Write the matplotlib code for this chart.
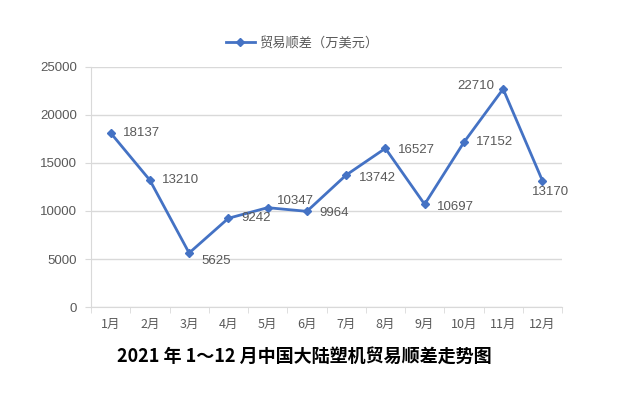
import matplotlib.pyplot as plt

plt.rcParams["font.family"] = ["Noto Sans CJK SC", "DejaVu Sans"]

months = ["1月", "2月", "3月", "4月", "5月", "6月",
          "7月", "8月", "9月", "10月", "11月", "12月"]
surplus = [18137, 13210, 5625, 9242, 10347, 9964,
           13742, 16527, 10697, 17152, 22710, 13170]
yticks = [0, 5000, 10000, 15000, 20000, 25000]

# label offsets in points (dx, dy), left-aligned unless negative dx
offsets = [(9, 0), (9, 0), (9, -6), (9, 0), (7, 5), (9, -1),
           (9, -2), (9, -1), (9, -2), (9, 0), (-6, 2), (-4, -8)]

LINE = "#4472C4"
GRID = "#D9D9D9"
TXT = "#595959"

fig = plt.figure(figsize=(6.39, 3.94), dpi=100)
ax = fig.add_axes([91 / 639, 1 - 307 / 394, (562 - 91) / 639, (307 - 67) / 394])

x = list(range(len(months)))
ax.plot(x, surplus, color=LINE, lw=2, marker="D", ms=4, label="贸易顺差（万美元）")

for i, v in enumerate(surplus):
    dx, dy = offsets[i]
    ha = "left" if dx >= 0 else "right"
    if i == 11:
        ha = "center"
        dx = 6
    ax.annotate(str(v), (i, v), xytext=(dx, dy), textcoords="offset points",
                ha=ha, va="center", fontsize=9.5, color=TXT,
                family=["Liberation Sans", "DejaVu Sans"])

ax.set_xlim(-0.5, len(months) - 0.5)
ax.set_ylim(0, 25000)
ax.set_yticks(yticks)
ax.set_yticklabels([str(t) for t in yticks], family=["Liberation Sans", "DejaVu Sans"])
ax.set_xticks(x)
ax.set_xticklabels(months)
ax.set_xticks([i - 0.5 for i in range(len(months) + 1)], minor=True)
ax.tick_params(axis="x", which="major", length=0, pad=8, labelsize=9, labelcolor=TXT)
ax.tick_params(axis="x", which="minor", length=4, color=GRID)
ax.tick_params(axis="y", length=4, color=GRID, labelsize=9.5, labelcolor=TXT, pad=6)

ax.grid(axis="y", color=GRID, lw=1)
ax.set_axisbelow(True)
for s in ["top", "right"]:
    ax.spines[s].set_visible(False)
ax.spines["left"].set_color(GRID)
ax.spines["bottom"].set_color(GRID)

fig.legend(loc="center", bbox_to_anchor=(302 / 639, 1 - 43 / 394), frameon=False,
           fontsize=9.5, labelcolor=TXT, handlelength=2.2, handletextpad=0.3)

fig.text(304 / 639, 1 - 356 / 394, "2021 年 1～12 月中国大陆塑机贸易顺差走势图",
         ha="center", va="center", fontsize=13, fontweight="bold", color="black")

fig.savefig("out.png", dpi=100, facecolor="white")
